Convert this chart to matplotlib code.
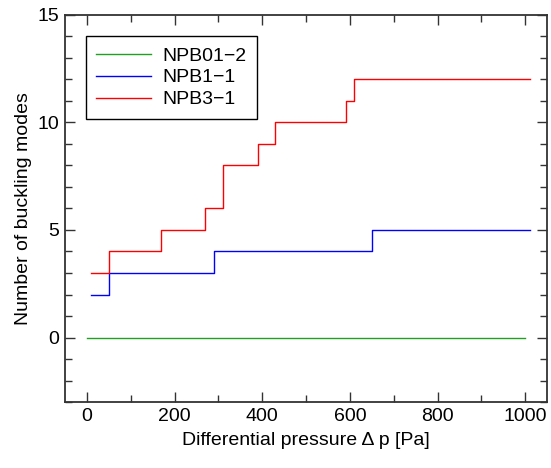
import matplotlib
matplotlib.use('Agg')
import matplotlib.pyplot as plt
from matplotlib.ticker import MultipleLocator

plt.rcParams['font.family'] = ['Liberation Sans', 'DejaVu Sans']

# step data: pressure where each level starts, number of modes
green_x = [0, 1000]
green_y = [0, 0]
blue_x = [10, 50, 290, 650, 1010]
blue_y = [2, 3, 4, 5, 5]
red_x = [10, 50, 170, 270, 310, 390, 430, 590, 610, 1010]
red_y = [3, 4, 5, 6, 8, 9, 10, 11, 12, 12]

fig = plt.figure(figsize=(5.51, 4.68), dpi=100)
ax = fig.add_axes([0.118, 0.141, 0.875, 0.827])

ax.plot(green_x, green_y, color='#1fa01f', lw=1, drawstyle='steps-post', label='NPB01\u22122')
ax.plot(blue_x, blue_y, color='#0000ff', lw=1, drawstyle='steps-post', label='NPB1\u22121')
ax.plot(red_x, red_y, color='#ff0000', lw=1, drawstyle='steps-post', label='NPB3\u22121')

ax.set_xlim(-50, 1050)
ax.set_ylim(-3, 15)
ax.xaxis.set_major_locator(MultipleLocator(200))
ax.xaxis.set_minor_locator(MultipleLocator(100))
ax.yaxis.set_major_locator(MultipleLocator(5))
ax.yaxis.set_minor_locator(MultipleLocator(1))
ax.tick_params(which='both', direction='in', top=True, right=True, color='#333333',
               labelsize=14, pad=4)
ax.tick_params(which='major', length=7, width=1)
ax.tick_params(which='minor', length=5, width=1)
for s in ax.spines.values():
    s.set_linewidth(1.3)
    s.set_color('#333333')

ax.set_xlabel('Differential pressure \u0394 p [Pa]', fontsize=14, labelpad=5)
ax.set_ylabel('Number of buckling modes', fontsize=14, labelpad=4)

leg = ax.legend(loc='upper left', bbox_to_anchor=(0.043, 0.945), fontsize=14,
                fancybox=False, edgecolor='black', framealpha=1,
                handlelength=2.8, handletextpad=0.6, borderpad=0.55, labelspacing=0.22,
                borderaxespad=0)
leg.get_frame().set_linewidth(1)

fig.savefig('out.png', dpi=100)
